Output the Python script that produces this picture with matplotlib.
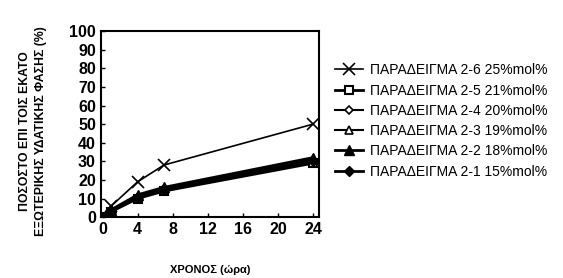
import matplotlib
matplotlib.use('Agg')
import matplotlib.pyplot as plt
from matplotlib import font_manager

# pick a narrow font if there is one
names = set(f.name for f in font_manager.fontManager.ttflist)
fam = 'Liberation Sans Narrow' if 'Liberation Sans Narrow' in names else 'Liberation Sans'
plt.rcParams['font.family'] = [fam, 'DejaVu Sans']

hours = [0, 1, 4, 7, 24]
ex26 = [0, 6, 19, 28, 50]
ex25 = [0, 3, 10, 14, 29]
ex24 = [0, 4, 11, 15, 30]
ex23 = [0, 4, 11, 15, 31]
ex22 = [0, 4, 12, 16, 32]
ex21 = [0, 3, 11, 15, 30]

labels = ['ΠΑΡΑΔΕΙΓΜΑ 2-6 25%mol%', 'ΠΑΡΑΔΕΙΓΜΑ 2-5 21%mol%',
          'ΠΑΡΑΔΕΙΓΜΑ 2-4 20%mol%', 'ΠΑΡΑΔΕΙΓΜΑ 2-3 19%mol%',
          'ΠΑΡΑΔΕΙΓΜΑ 2-2 18%mol%', 'ΠΑΡΑΔΕΙΓΜΑ 2-1 15%mol%']
xticks = [0, 4, 8, 12, 16, 20, 24]
yticks = list(range(0, 101, 10))

fig = plt.figure(figsize=(5.63, 2.78), dpi=100)
ax = fig.add_axes([0.179, 0.219, 0.388, 0.669])

ax.plot(hours, ex26, 'k-', marker='x', ms=8, mew=1.2, lw=1.2, label=labels[0])
ax.plot(hours, ex25, 'k-', marker='s', mfc='white', ms=6, mew=1.5, lw=2, label=labels[1])
ax.plot(hours, ex24, 'k-', marker='D', mfc='white', ms=4, mew=1.2, lw=1.5, label=labels[2])
ax.plot(hours, ex23, 'k-', marker='^', mfc='white', ms=6, mew=1.2, lw=1.5, label=labels[3])
ax.plot(hours, ex22, 'k-', marker='^', ms=7, lw=2, label=labels[4])
ax.plot(hours, ex21, 'k-', marker='D', ms=5, lw=2, label=labels[5])

ax.set_xlim(-0.2, 24.7)
ax.set_ylim(0, 100)
ax.set_xticks(xticks)
ax.set_yticks(yticks)
ax.tick_params(direction='in', length=3, labelsize=11.5, width=1)
for lab in ax.get_xticklabels() + ax.get_yticklabels():
    lab.set_fontweight('bold')
for s in ax.spines.values():
    s.set_linewidth(1.5)

ax.set_xlabel('ΧΡΟΝΟΣ (ώρα)', fontsize=8, fontweight='bold', labelpad=20)
fig.text(0.058, 0.53, 'ΠΟΣΟΣΤΟ ΕΠΙ ΤΟΙΣ ΕΚΑΤΟ\nΕΞΩΤΕΡΙΚΗΣ ΥΔΑΤΙΚΗΣ ΦΑΣΗΣ (%)',
         rotation=90, ha='center', va='center', fontsize=8.8, fontweight='bold',
         linespacing=1.45)

fig.legend(handles=ax.get_lines(), loc='center left', bbox_to_anchor=(0.585, 0.565),
           frameon=False, fontsize=10, handlelength=2.0, labelspacing=0.45,
           handletextpad=0.5, borderaxespad=0)

fig.savefig('out.png', dpi=100)
